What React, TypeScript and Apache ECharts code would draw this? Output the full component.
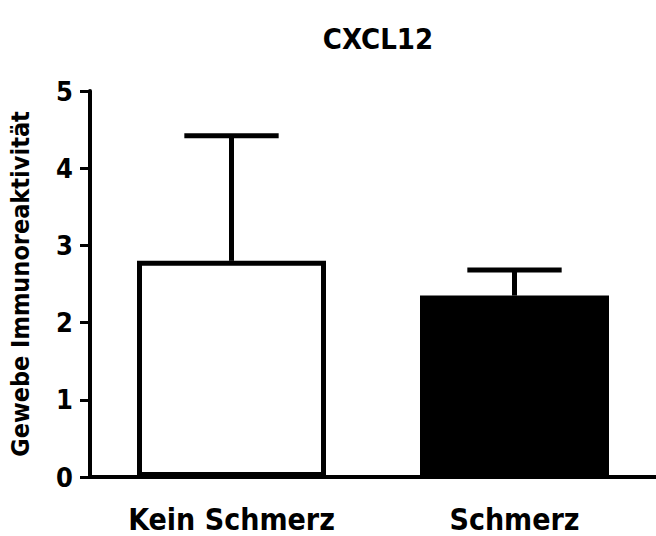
import React, { useEffect, useRef } from "react";
import * as echarts from "echarts";

const categories = ["Kein Schmerz", "Schmerz"];
const means = [2.8, 2.35];
const upperErrors = [4.42, 2.68];
const barColors = ["#ffffff", "#000000"];
const yTicks = [0, 1, 2, 3, 4, 5];

const FONT = "'Liberation Sans Narrow', 'Arial Narrow', 'DejaVu Sans Condensed', sans-serif";

export default function App() {
  const ref = useRef<HTMLDivElement>(null);
  useEffect(() => {
    if (!ref.current) return;
    const chart = echarts.init(ref.current, undefined, { renderer: "svg" });
    chart.setOption({
      animation: false,
      backgroundColor: "#ffffff",
      title: {
        text: "CXCL12",
        left: 373,
        textAlign: "center",
        top: 19,
        textStyle: { fontFamily: FONT, fontWeight: "bold", fontSize: 29, color: "#000" },
      },
      grid: { left: 85, right: -5, top: 91, bottom: 59 },
      xAxis: {
        type: "category",
        data: categories,
        axisLine: { lineStyle: { color: "#000", width: 4 } },
        axisTick: { alignWithLabel: true, length: 10, lineStyle: { color: "#000", width: 3 } },
        axisLabel: { margin: 27, fontFamily: FONT, fontWeight: "bold", fontSize: 30, color: "#000" },
      },
      yAxis: {
        type: "value",
        min: yTicks[0],
        max: yTicks[yTicks.length - 1],
        interval: 1,
        name: "Gewebe Immunoreaktivität",
        nameLocation: "middle",
        nameGap: 57,
        nameTextStyle: { fontFamily: FONT, fontWeight: "bold", fontSize: 25, color: "#000" },
        axisLine: { show: true, lineStyle: { color: "#000", width: 4 } },
        axisTick: { show: true, length: 10, lineStyle: { color: "#000", width: 3 } },
        axisLabel: { margin: 17, fontFamily: FONT, fontWeight: "bold", fontSize: 27, color: "#000" },
        splitLine: { show: false },
      },
      series: [
        {
          type: "custom",
          z: 1,
          data: upperErrors.map((u, i) => [i, means[i], u]),
          renderItem: (params: any, api: any) => {
            const i = api.value(0);
            const lo = api.coord([i, api.value(1)]);
            const hi = api.coord([i, api.value(2)]);
            const half = api.size([1, 0])[0] / 6;
            const style = { stroke: "#000", lineWidth: 5 };
            return {
              type: "group",
              children: [
                { type: "line", shape: { x1: lo[0], y1: lo[1], x2: hi[0], y2: hi[1] }, style },
                { type: "line", shape: { x1: hi[0] - half, y1: hi[1], x2: hi[0] + half, y2: hi[1] }, style },
              ],
            };
          },
        },
        {
          type: "bar",
          z: 2,
          barWidth: 189,
          data: means.map((v, i) => ({
            value: v,
            itemStyle: { color: barColors[i], borderColor: "#000", borderWidth: 5 },
          })),
        },
      ],
    });
    return () => chart.dispose();
  }, []);
  return (
    <div
      ref={ref}
      style={{ position: "fixed", left: 0, top: 0, width: 656, height: 536 }}
    />
  );
}
